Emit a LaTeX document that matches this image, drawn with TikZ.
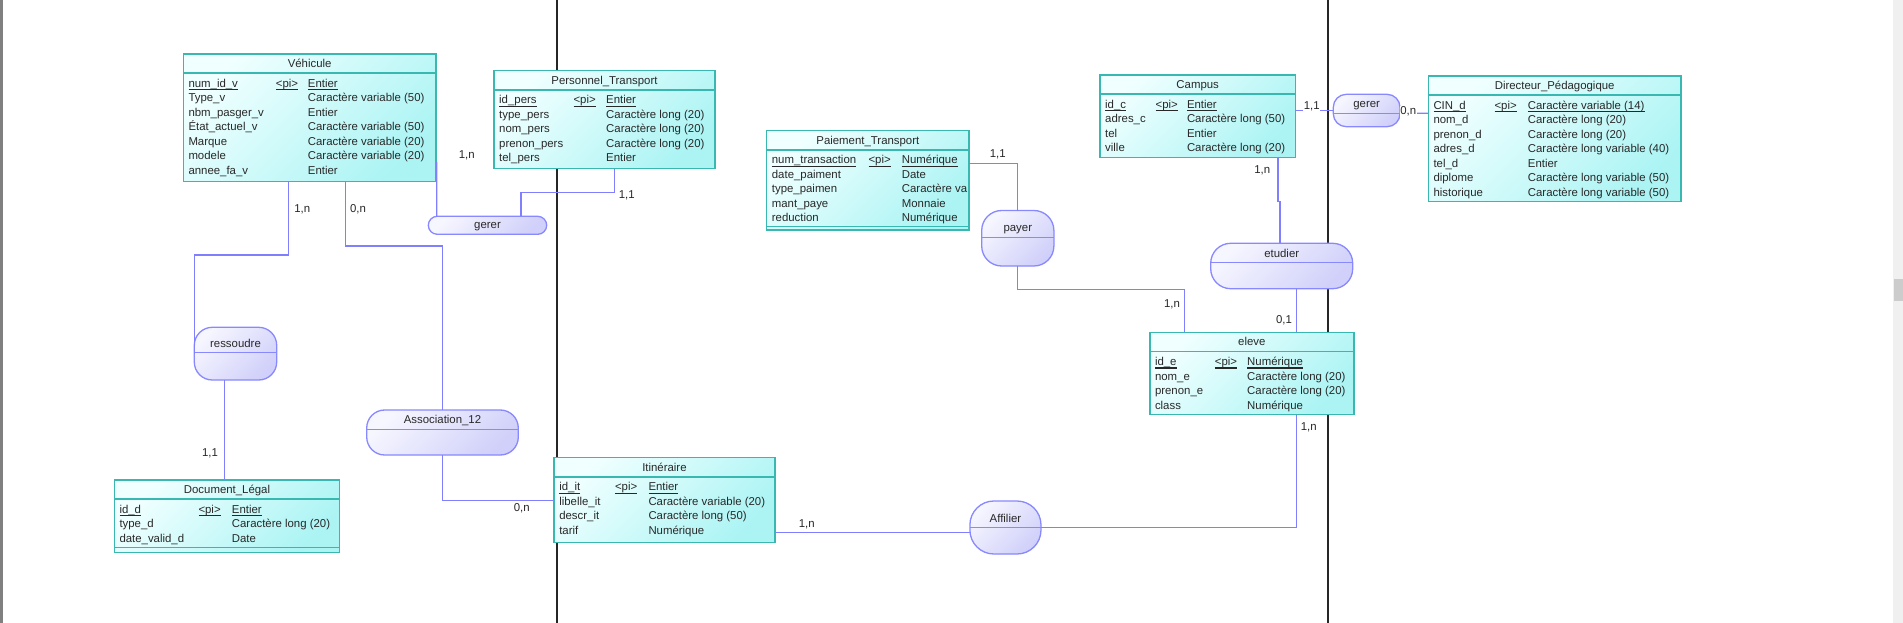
\documentclass[tikz,border=0pt]{standalone}
\usepackage{fontspec}
\setmainfont{Liberation Sans}
\usepackage{xcolor}
\usepackage{tikz}
\usetikzlibrary{positioning}

\definecolor{entborder}{RGB}{56,184,176}
\definecolor{entlight}{RGB}{240,255,255}
\definecolor{entdark}{RGB}{172,244,244}
\definecolor{assocborder}{RGB}{136,136,255}
\definecolor{assoclight}{RGB}{246,246,255}
\definecolor{assocdark}{RGB}{208,208,250}
\definecolor{linkcol}{RGB}{128,128,255}
\definecolor{textcol}{RGB}{40,40,40}

\newcommand\entfont{\fontsize{11.4pt}{14.5pt}\selectfont}
\newcommand\pkcell[1]{\leavevmode\setbox0=\hbox{#1}\rlap{\vrule width\wd0 height -1.9pt depth 3.1pt}\box0}

\tikzset{
  entity/.style={rectangle, draw=entborder, line width=1.5pt, top color=entlight, bottom color=entdark, shading angle=45, anchor=north west, inner sep=0pt, outer sep=0pt},
  enttitle/.style={anchor=north, minimum height=19.2pt, inner sep=0pt, text height=8.2pt, text depth=2.4pt, yshift=-0.8pt, font=\entfont, text=textcol},
  entbody/.style={anchor=north west, inner sep=0pt, font=\entfont, text=textcol, xshift=5pt, yshift=-22.9pt},
  entline/.style={draw=entborder, line width=1.5pt},
  assoc/.style={rectangle, draw=assocborder, line width=1.3pt, top color=assoclight, bottom color=assocdark, shading angle=45, inner sep=0pt, outer sep=0pt, text height=8pt, text depth=2.4pt, font=\entfont, text=textcol},
  assocname/.style={font=\entfont, text=textcol, inner sep=0pt, text height=8pt, text depth=2.4pt},
  assocline/.style={draw=assocborder, line width=1.3pt},
  link/.style={draw=linkcol, line width=1.1pt},
  card/.style={font=\entfont, text=textcol, fill=white, inner sep=0.8pt},
  pageline/.style={draw=black!85, line width=1.5pt}
}

\begin{document}
\begin{tikzpicture}[x=1pt, y=-1pt]
  \useasboundingbox (0,0) rectangle (1903,623);
  \fill[white] (0,0) rectangle (1903,623);
  \fill[black!50] (0,0) rectangle (3,623);
  \fill[black!6] (1893,0) rectangle (1903,623);
  \fill[black!20] (1894,279) rectangle (1903,301);

  % page breaks
  \draw[pageline] (557,0) -- (557,623);
  \draw[pageline] (1328,0) -- (1328,623);

  % entities
  \node[entity, minimum width=252.7pt, minimum height=127.7pt] (vehicule) at (183.3,54) {};
  \node[enttitle] (vehicule-title) at (vehicule.north) {Véhicule};
  \node[entbody] (vehicule-attrs) at (vehicule.north west) {%
    \begin{tabular}{@{}p{87.4pt}@{}p{32pt}@{}l@{}}
    \pkcell{num\_id\_v} & \pkcell{<pi>} & \pkcell{Entier}\\
    Type\_v & & Caractère variable (50)\\
    nbm\_pasger\_v & & Entier\\
    État\_actuel\_v & & Caractère variable (50)\\
    Marque & & Caractère variable (20)\\
    modele & & Caractère variable (20)\\
    annee\_fa\_v & & Entier
    \end{tabular}};

  \node[entity, minimum width=221pt, minimum height=98pt] (personnel) at (494,70.7) {};
  \node[enttitle] (personnel-title) at (personnel.north) {Personnel\_Transport};
  \node[entbody] (personnel-attrs) at (personnel.north west) {%
    \begin{tabular}{@{}p{74.3pt}@{}p{32.7pt}@{}l@{}}
    \pkcell{id\_pers} & \pkcell{<pi>} & \pkcell{Entier}\\
    type\_pers & & Caractère long (20)\\
    nom\_pers & & Caractère long (20)\\
    prenon\_pers & & Caractère long (20)\\
    tel\_pers & & Entier
    \end{tabular}};

  \node[entity, minimum width=202.3pt, minimum height=99.3pt] (paiement) at (766.7,130.7) {};
  \node[enttitle] (paiement-title) at (paiement.north) {Paiement\_Transport};
  \node[entbody] (paiement-attrs) at (paiement.north west) {%
    \begin{tabular}{@{}p{96.6pt}@{}p{33.4pt}@{}l@{}}
    \pkcell{num\_transaction} & \pkcell{<pi>} & \pkcell{Numérique}\\
    date\_paiment & & Date\\
    type\_paimen & & Caractère va\\
    mant\_paye & & Monnaie\\
    reduction & & Numérique
    \end{tabular}};

  \node[entity, minimum width=195.4pt, minimum height=82.7pt] (campus) at (1100,75) {};
  \node[enttitle] (campus-title) at (campus.north) {Campus};
  \node[entbody] (campus-attrs) at (campus.north west) {%
    \begin{tabular}{@{}p{50.4pt}@{}p{31.4pt}@{}l@{}}
    \pkcell{id\_c} & \pkcell{<pi>} & \pkcell{Entier}\\
    adres\_c & & Caractère long (50)\\
    tel & & Entier\\
    ville & & Caractère long (20)
    \end{tabular}};

  \node[entity, minimum width=252.7pt, minimum height=125.7pt] (directeur) at (1428.3,76) {};
  \node[enttitle] (directeur-title) at (directeur.north) {Directeur\_Pédagogique};
  \node[entbody] (directeur-attrs) at (directeur.north west) {%
    \begin{tabular}{@{}p{61pt}@{}p{33.4pt}@{}l@{}}
    \pkcell{CIN\_d} & \pkcell{<pi>} & \pkcell{Caractère variable (14)}\\
    nom\_d & & Caractère long (20)\\
    prenon\_d & & Caractère long (20)\\
    adres\_d & & Caractère long variable (40)\\
    tel\_d & & Entier\\
    diplome & & Caractère long variable (50)\\
    historique & & Caractère long variable (50)
    \end{tabular}};

  \node[entity, minimum width=204pt, minimum height=82.4pt] (eleve) at (1149.8,332.3) {};
  \node[enttitle] (eleve-title) at (eleve.north) {eleve};
  \node[entbody] (eleve-attrs) at (eleve.north west) {%
    \begin{tabular}{@{}p{59.9pt}@{}p{32.3pt}@{}l@{}}
    \pkcell{id\_e} & \pkcell{<pi>} & \pkcell{Numérique}\\
    nom\_e & & Caractère long (20)\\
    prenon\_e & & Caractère long (20)\\
    class & & Numérique
    \end{tabular}};

  \node[entity, minimum width=220.7pt, minimum height=85pt] (itineraire) at (554.1,457.7) {};
  \node[enttitle] (itineraire-title) at (itineraire.north) {Itinéraire};
  \node[entbody] (itineraire-attrs) at (itineraire.north west) {%
    \begin{tabular}{@{}p{55.7pt}@{}p{33.5pt}@{}l@{}}
    \pkcell{id\_it} & \pkcell{<pi>} & \pkcell{Entier}\\
    libelle\_it & & Caractère variable (20)\\
    descr\_it & & Caractère long (50)\\
    tarif & & Numérique
    \end{tabular}};

  \node[entity, minimum width=225.4pt, minimum height=72.7pt] (doclegal) at (114.3,480) {};
  \node[enttitle] (doclegal-title) at (doclegal.north) {Document\_Légal};
  \node[entbody] (doclegal-attrs) at (doclegal.north west) {%
    \begin{tabular}{@{}p{79pt}@{}p{33.4pt}@{}l@{}}
    \pkcell{id\_d} & \pkcell{<pi>} & \pkcell{Entier}\\
    type\_d & & Caractère long (20)\\
    date\_valid\_d & & Date
    \end{tabular}};

  \foreach \ent in {vehicule, personnel, paiement, campus, directeur, eleve, itineraire, doclegal}
    \draw[entline] ([yshift=-19.2pt]\ent.north west) -- ([yshift=-19.2pt]\ent.north east);
  \draw[entline] ([yshift=3.3pt]paiement.south west) -- ([yshift=3.3pt]paiement.south east);
  \draw[entline] ([yshift=5.4pt]doclegal.south west) -- ([yshift=5.4pt]doclegal.south east);

  % associations
  \node[assoc, minimum width=118.4pt, minimum height=18pt, rounded corners=9pt] (gererveh) at (487.5,225.3) {gerer};
  \node[assoc, minimum width=82.4pt, minimum height=52.7pt, rounded corners=18pt] (ressoudre) at (235.5,353.65) {};
  \node[assoc, minimum width=151.6pt, minimum height=45pt, rounded corners=18pt] (assoc12) at (442.5,432.5) {};
  \node[assoc, minimum width=72.2pt, minimum height=55.5pt, rounded corners=20pt] (payer) at (1017.8,238.25) {};
  \node[assoc, minimum width=142pt, minimum height=45.4pt, rounded corners=20pt] (etudier) at (1281.7,266) {};
  \node[assoc, minimum width=71.1pt, minimum height=53pt, rounded corners=24pt] (affilier) at (1005.45,527.5) {};
  \node[assoc, minimum width=66.7pt, minimum height=32.4pt, rounded corners=13pt] (gererdir) at (1366.65,110.5) {};

  \foreach \assoc/\sep/\name in {ressoudre/25.4pt/ressoudre, assoc12/19.3pt/Association\_12, payer/26.8pt/payer,
      etudier/19.4pt/etudier, affilier/26.7pt/Affilier, gererdir/19pt/gerer}
    \draw[assocline] ([yshift=-\sep]\assoc.north west) -- ([yshift=-\sep]\assoc.north east)
      node[assocname, midway, above=2.6pt] (\assoc-name) {\name};

  % links
  \draw[link] ([xshift=0.7pt, yshift=20pt]vehicule.south east) -- ([xshift=8.4pt]gererveh.north west);
  \draw[link] ([xshift=9.8pt]personnel.south) -- ++(0,23.6) -| ([xshift=33.5pt]gererveh.north);
  \draw[link] ([xshift=-21pt]vehicule.south) -- ++(0,73.3) -| (ressoudre.west);
  \draw[link] ([xshift=-11.2pt]ressoudre.south) -- ([xshift=-2.7pt]doclegal.north);
  \draw[link] ([xshift=36pt]vehicule.south) -- ++(0,64.3) -| (assoc12.north);
  \draw[link] (assoc12.south) |- (itineraire.west);
  \draw[link] ([yshift=-32.6pt]paiement.north east) -| (payer.north);
  \draw[link] (payer.south) -- ++(0,23.3) -| ([xshift=-67.5pt]eleve.north);
  \draw[link] ([xshift=80.3pt]campus.south) -- ++(0,44) -| ([xshift=-1.7pt]etudier.north);
  \draw[link] ([xshift=15pt]etudier.south) -- ([xshift=44.9pt]eleve.north);
  \draw[link] ([xshift=45pt]eleve.south) |- (affilier.east);
  \draw[link] ([yshift=-32.5pt]itineraire.east) -- ([yshift=-5.2pt]affilier.west);
  \draw[link] (gererdir.west -| campus.east) -- (gererdir.west);
  \draw[link] ([yshift=-2.8pt]gererdir.east) -- ([yshift=25.55pt]directeur.west);

  % cardinalities
  \foreach \lnk/\pos/\txt in {vg/{466.7,155}/{1,n}, pg/{626.7,195}/{1,1}, vr/{302.3,209}/{1,n},
      va/{358,209}/{0,n}, rd/{210,453.3}/{1,1}, ai/{521.7,508.7}/{0,n}, pp/{997.7,154.3}/{1,1},
      pe/{1172,304.3}/{1,n}, ce/{1262.3,170}/{1,n}, ee/{1284,320}/{0,1}, ea/{1308.8,427.7}/{1,n},
      ia/{806.7,524}/{1,n}, cg/{1311.7,106.7}/{1,1}, gd/{1408.3,111.7}/{0,n}}
    \node[card] (\lnk-card) at (\pos) {\txt};
\end{tikzpicture}
\end{document}
